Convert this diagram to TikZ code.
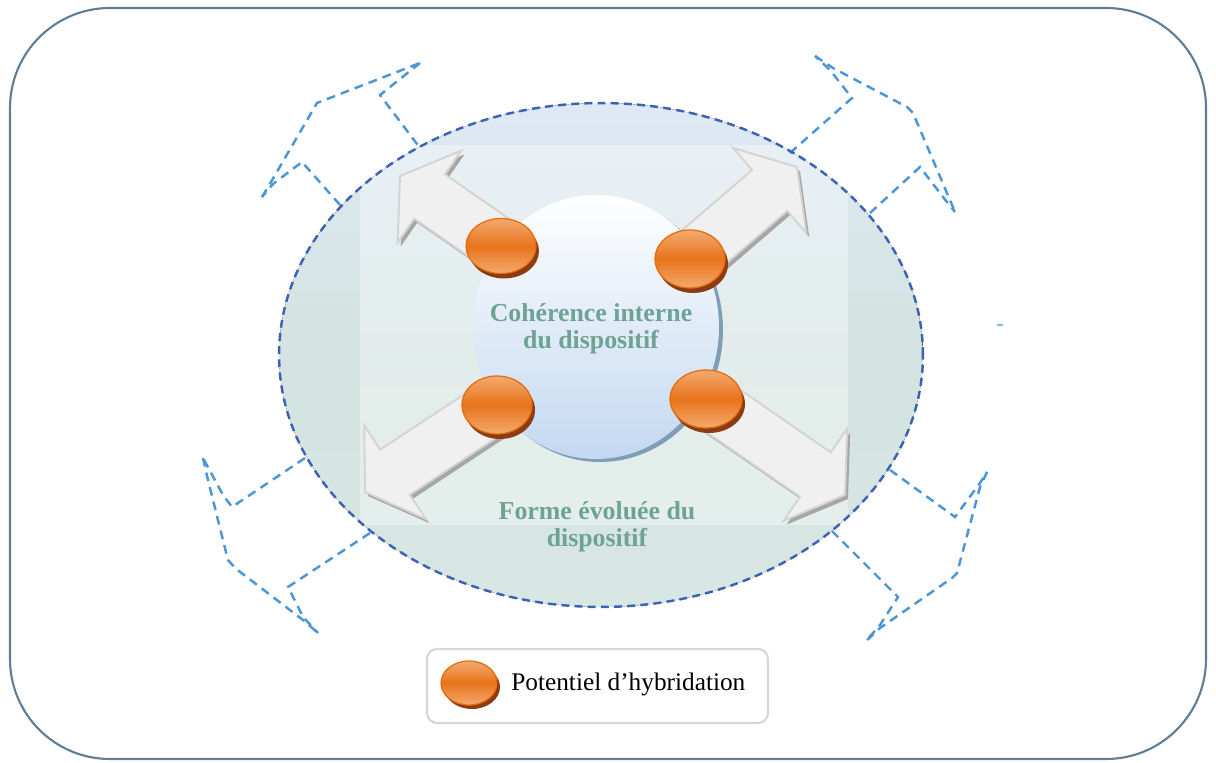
\documentclass[tikz,border=0pt]{standalone}
\usepackage{fontspec}
\setmainfont{Liberation Serif}
\usetikzlibrary{shapes.geometric,calc}
\definecolor{framecol}{HTML}{5F7D95}
\definecolor{elldash}{HTML}{3C62B4}
\definecolor{ltblue}{HTML}{4A96D6}
\definecolor{elltop}{HTML}{DFE9F5}
\definecolor{ellmid}{HTML}{D3E3DF}
\definecolor{ellbot}{HTML}{D8E7E3}
\definecolor{circbot}{HTML}{C3D8F1}
\definecolor{circsh}{HTML}{7F9DB5}
\definecolor{discl}{HTML}{F3AA70}
\definecolor{discm}{HTML}{E8731A}
\definecolor{discedge}{HTML}{E46C0A}
\definecolor{discsh}{HTML}{8B3C12}
\definecolor{arrfill}{HTML}{F0F0F0}
\definecolor{arredge}{HTML}{D4D4D4}
\definecolor{arrsh}{HTML}{A6A6A6}
\definecolor{txtgreen}{HTML}{6EA394}
\definecolor{legedge}{HTML}{D6D6D6}
\newcommand\grayarrow[2]{%
  \coordinate (B#2) at ($(#2)!0.72cm!(#1)$);
  \fill[arrsh, transform canvas={shift={(0.06cm,-0.08cm)}}]
    ($(#1)!0.54cm!90:(#2)$) -- ($(B#2)!0.54cm!90:(#2)$) -- ($(B#2)!1.12cm!90:(#2)$) -- (#2)
    -- ($(B#2)!1.12cm!-90:(#2)$) -- ($(B#2)!0.54cm!-90:(#2)$) -- ($(#1)!0.54cm!-90:(#2)$) -- cycle;
  \draw[arrbody]
    ($(#1)!0.54cm!90:(#2)$) -- ($(B#2)!0.54cm!90:(#2)$) -- ($(B#2)!1.12cm!90:(#2)$) -- (#2)
    -- ($(B#2)!1.12cm!-90:(#2)$) -- ($(B#2)!0.54cm!-90:(#2)$) -- ($(#1)!0.54cm!-90:(#2)$) -- cycle;
}
\begin{document}
\begin{tikzpicture}[x=0.02cm,y=-0.02cm,
  bluedash/.style={ltblue, line width=1.4pt, dash pattern=on 5pt off 3.5pt},
  arrbody/.style={fill=arrfill, draw=arredge, line width=1.1pt, line join=miter},
  disc/.style={ellipse, inner sep=0pt, draw=discedge, line width=0.7pt,
    top color=discl, bottom color=discl, middle color=discm},
  discshadow/.style={ellipse, inner sep=0pt, fill=discsh},
  bigtext/.style={text=txtgreen, font=\fontsize{14.7}{15.4}\selectfont\bfseries, align=center}
]
\useasboundingbox (0,0) rectangle (1216,763);
% outer frame
\draw[framecol, line width=1.2pt, rounded corners=2cm] (10,8) rectangle (1206,759);

% big ellipse
\fill[top color=elltop, bottom color=ellbot, middle color=ellmid] (601,355) ellipse [x radius=6.44cm, y radius=5.04cm];
\begin{scope}
  \clip (601,355) ellipse [x radius=6.44cm, y radius=5.04cm];
  \fill[white, opacity=0.35] (360,145) rectangle (848,525);
\end{scope}

% dashed light blue outlines
\draw[bluedash] (340,205) -- (302,162) -- (273,184) -- (262,197);
\draw[bluedash] (262,197) -- (271,182) -- (317,103) -- (420,63);
\draw[bluedash] (420,63) -- (380,95) -- (420,148);

\draw[bluedash] (790,153) -- (852,98) -- (830,70) -- (815,56);
\draw[bluedash] (815,56) -- (833,68) -- (907,107) -- (913,113) -- (955,212);
\draw[bluedash] (870,213) -- (920,167) -- (943,197) -- (955,212);

\draw[bluedash] (305,458) -- (232,507) -- (223,495) -- (203,458);
\draw[bluedash] (203,458) -- (208,480) -- (228,560) -- (235,568) -- (303,620) -- (318,633);
\draw[bluedash] (370,533) -- (288,587) -- (303,617) -- (318,633);

\draw[bluedash] (890,470) -- (955,517) -- (980,483) -- (987,472);
\draw[bluedash] (987,472) -- (980,487) -- (957,573) -- (952,578) -- (880,628) -- (865,642);
\draw[bluedash] (832,531) -- (898,597) -- (880,625) -- (865,642);

\draw[ltblue!70, line width=1pt] (997,325) -- (1003,325);

% ellipse border
\node[ellipse, inner sep=0pt, minimum width=12.88cm, minimum height=10.08cm,
  draw=elldash, line width=1.4pt, dash pattern=on 4.5pt off 3pt] (outer) at (601,355) {};

% inner circle
\node[ellipse, inner sep=0pt, minimum width=4.92cm, minimum height=5.28cm, fill=circsh] (innersh) at (600,330) {};
\node[ellipse, inner sep=0pt, minimum width=4.92cm, minimum height=5.28cm,
  top color=white, bottom color=circbot] (inner) at (596,327) {};

% arrows
\coordinate (c1) at (501,246);
\coordinate (c2) at (690,259);
\coordinate (c3) at (497,405);
\coordinate (c4) at (706,399);
\coordinate (t1) at (400,176);
\coordinate (t2) at (797,167);
\coordinate (t3) at (365,492);
\coordinate (t4) at (845,495);
\grayarrow{c1}{t1}
\grayarrow{c2}{t2}
\grayarrow{c3}{t3}
\grayarrow{c4}{t4}

% discs
\node[discshadow, minimum width=1.4cm, minimum height=1.1cm] (d1s) at ($(c1)+(3,5)$) {};
\node[disc, minimum width=1.4cm, minimum height=1.1cm] (d1) at (c1) {};
\node[discshadow, minimum width=1.4cm, minimum height=1.16cm] (d2s) at ($(c2)+(3,5)$) {};
\node[disc, minimum width=1.4cm, minimum height=1.16cm] (d2) at (c2) {};
\node[discshadow, minimum width=1.4cm, minimum height=1.16cm] (d3s) at ($(c3)+(3,5)$) {};
\node[disc, minimum width=1.4cm, minimum height=1.16cm] (d3) at (c3) {};
\node[discshadow, minimum width=1.44cm, minimum height=1.16cm] (d4s) at ($(c4)+(3,5)$) {};
\node[disc, minimum width=1.44cm, minimum height=1.16cm] (d4) at (c4) {};

% texts
\node[bigtext] (t_inner) at (591,329) {Cohérence interne\\du dispositif};
\node[bigtext] (t_outer) at (597,527) {Forme évoluée du\\dispositif};

% legend
\node[draw=legedge, line width=1.2pt, rounded corners=0.2cm, fill=white,
  minimum width=6.82cm, minimum height=1.48cm] (legend) at (597.5,686) {};
\node[discshadow, minimum width=1.12cm, minimum height=0.88cm] (lds) at (472,687) {};
\node[disc, minimum width=1.12cm, minimum height=0.88cm] (ld) at (469,683) {};
\node[anchor=base west, inner sep=0pt, font=\fontsize{14.4}{16}\selectfont] (legtext) at (511,690) {Potentiel d’hybridation};
\end{tikzpicture}
\end{document}
